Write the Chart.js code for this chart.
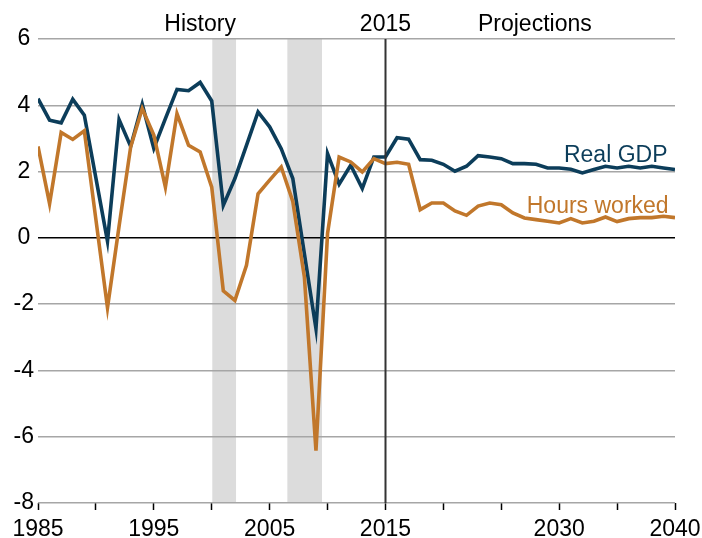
<!DOCTYPE html>
<html>
<head>
<meta charset="utf-8">
<script src="https://cdn.jsdelivr.net/npm/chart.js@4/dist/chart.umd.min.js"></script>
<style>
  html, body { margin: 0; padding: 0; background: #fff; }
  #wrap { width: 702px; height: 538px; }
</style>
</head>
<body>
<div id="wrap"><canvas id="myChart" width="702" height="538"></canvas></div>
<script>
  // annual growth rates, percent
  const years = [];
  for (let y = 1985; y <= 2040; y++) years.push(y);

  const realGdp = [
    4.2, 3.55, 3.47, 4.18, 3.7, 1.8, -0.1, 3.57, 2.76, 4.03,
    2.7, 3.6, 4.48, 4.44, 4.69, 4.13, 0.98, 1.79, 2.79, 3.8,
    3.35, 2.69, 1.79, -0.48, -2.74, 2.54, 1.62, 2.19, 1.49, 2.44,
    2.44, 3.02, 2.98, 2.36, 2.34, 2.22, 2.01, 2.16, 2.48, 2.44,
    2.39, 2.24, 2.24, 2.22, 2.11, 2.11, 2.07, 1.96, 2.06, 2.16,
    2.11, 2.16, 2.11, 2.16, 2.11, 2.06
  ];
  const hoursWorked = [
    2.76, 1.03, 3.18, 2.97, 3.23, 0.55, -2.11, 0.35, 2.74, 3.9,
    3.1, 1.53, 3.75, 2.79, 2.59, 1.53, -1.6, -1.89, -0.83, 1.33,
    1.74, 2.14, 1.1, -1.18, -6.42, 0.13, 2.44, 2.29, 1.99, 2.39,
    2.24, 2.28, 2.22, 0.85, 1.05, 1.05, 0.81, 0.68, 0.96, 1.05,
    1.0, 0.75, 0.6, 0.55, 0.5, 0.45, 0.58, 0.45, 0.5, 0.63,
    0.49, 0.58, 0.61, 0.61, 0.65, 0.61
  ];

  // recessions shaded, start/end in fractional years
  const recessions = [[2000.05, 2002.1], [2006.53, 2009.52]];
  const splitYear = 2015;
  const labeledYears = [1985, 1995, 2005, 2015, 2030, 2040];
  const yTicks = [6, 4, 2, 0, -2, -4, -6, -8];

  const navy = '#0c3d5a';
  const orange = '#c1772b';
  const font = '"Liberation Sans", Arial, sans-serif';

  const toPoints = vals => years.map((yr, i) => ({ x: yr, y: vals[i] }));

  const overlay = {
    id: 'overlay',
    beforeDraw(chart) {
      const { ctx, chartArea: a, scales: { x } } = chart;
      ctx.save();
      ctx.fillStyle = '#dcdcdc';
      recessions.forEach(([s, e]) => {
        const x0 = x.getPixelForValue(s);
        const x1 = x.getPixelForValue(e);
        ctx.fillRect(x0, a.top, x1 - x0, a.bottom - a.top);
      });
      ctx.restore();
    },
    afterDatasetsDraw(chart) {
      const { ctx, chartArea: a, scales: { x, y } } = chart;
      ctx.save();
      // history / projections divider
      const xs = Math.round(x.getPixelForValue(splitYear)) + 0.5;
      ctx.strokeStyle = '#333';
      ctx.lineWidth = 2;
      ctx.beginPath();
      ctx.moveTo(xs, a.top);
      ctx.lineTo(xs, a.bottom);
      ctx.stroke();

      ctx.font = '23px ' + font;
      ctx.textBaseline = 'alphabetic';
      ctx.fillStyle = '#000';
      ctx.textAlign = 'center';
      const top = a.top - 8;
      ctx.fillText('History', x.getPixelForValue(1999), top);
      ctx.fillText('2015', x.getPixelForValue(splitYear), top);
      ctx.fillText('Projections', x.getPixelForValue(2027.9), top);

      ctx.textAlign = 'right';
      ctx.fillStyle = navy;
      ctx.fillText('Real GDP', x.getPixelForValue(2039.35), y.getPixelForValue(2.29));
      ctx.fillStyle = orange;
      ctx.fillText('Hours worked', x.getPixelForValue(2039.45), y.getPixelForValue(0.76));
      ctx.restore();
    }
  };

  const ctx = document.getElementById('myChart').getContext('2d');
  const myChart = new Chart(ctx, {
    type: 'line',
    data: {
      datasets: [
        {
          label: 'Hours worked',
          data: toPoints(hoursWorked),
          borderColor: orange,
          borderWidth: 3.6,
          pointRadius: 0,
          tension: 0,
          fill: false
        },
        {
          label: 'Real GDP',
          data: toPoints(realGdp),
          borderColor: navy,
          borderWidth: 3.6,
          pointRadius: 0,
          tension: 0,
          fill: false
        }
      ]
    },
    options: {
      responsive: false,
      animation: false,
      layout: { padding: { top: 39, right: 27, left: 0, bottom: 0 } },
      plugins: {
        legend: { display: false },
        tooltip: { enabled: false }
      },
      scales: {
        x: {
          type: 'linear',
          min: 1985,
          max: 2040,
          afterFit: s => {
            s.height = 35;
            // let the end labels hang past the plot edges
            s.paddingLeft = 0;
            s.paddingRight = 0;
          },
          afterBuildTicks: s => {
            s.ticks = [];
            for (let v = 1985; v <= 2040; v += 5) s.ticks.push({ value: v });
          },
          grid: {
            drawOnChartArea: false,
            drawTicks: true,
            tickLength: 7,
            tickWidth: 1.5,
            tickColor: '#000'
          },
          border: { display: false },
          ticks: {
            autoSkip: false,
            maxRotation: 0,
            padding: 6,
            color: '#000',
            font: { family: font, size: 23 },
            callback: v => labeledYears.includes(v) ? String(v) : ''
          }
        },
        y: {
          min: -8,
          max: 6,
          afterFit: s => { s.width = 38; },
          afterBuildTicks: s => { s.ticks = yTicks.map(v => ({ value: v })); },
          grid: {
            drawTicks: false,
            lineWidth: 1.5,
            color: c => c.tick && c.tick.value === 0 ? '#000' : '#a6a6a6'
          },
          border: { display: false },
          ticks: {
            crossAlign: 'center',
            padding: 4,
            color: '#000',
            font: { family: font, size: 23 }
          }
        }
      }
    },
    plugins: [overlay]
  });
</script>
</body>
</html>
